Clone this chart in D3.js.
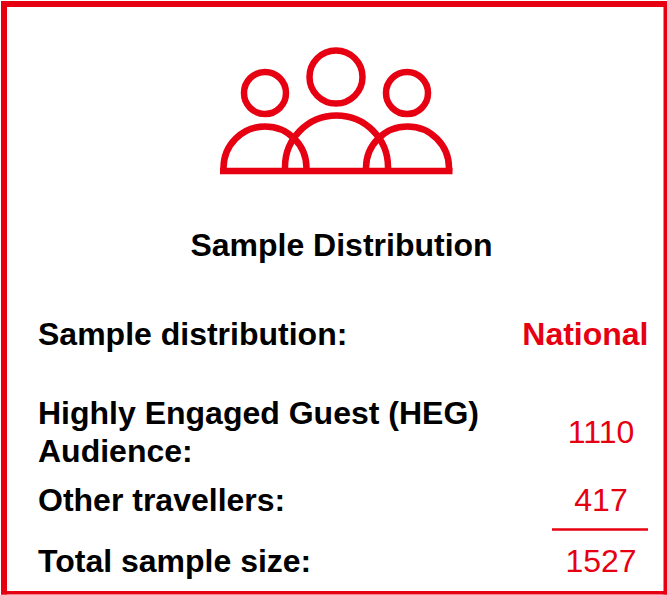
<!DOCTYPE html>
<html>
<head>
<meta charset="utf-8">
<script src="https://d3js.org/d3.v7.min.js"></script>
<style>
  html, body {margin: 0; padding: 0; background: white;}
  text {font-family: "Liberation Sans", Arial, sans-serif;}
</style>
</head>
<body>
<div id="graph"></div>
<script>
// Values
var title = 'Sample Distribution'
var groups = ['Sample distribution:', 'HEG', 'Other travellers:', 'Total sample size:']
var groupLines = [['Sample distribution:'], ['Highly Engaged Guest (HEG)', 'Audience:'], ['Other travellers:'], ['Total sample size:']]
var groupValues = ['National', '1110', '417', '1527']

var red = '#e60012'
var width = 667, height = 595

var svg = d3.select('#graph')
    .append('svg')
    .attr('width', width)
    .attr('height', height)
    .style('display', 'block')

// Outer frame, the sides are not equally thick
svg.append('rect').attr('x', 1).attr('y', 1).attr('width', 666).attr('height', 6).attr('fill', red)
svg.append('rect').attr('x', 1).attr('y', 1).attr('width', 6).attr('height', 593.5).attr('fill', red)
svg.append('rect').attr('x', 663.5).attr('y', 1).attr('width', 3.5).attr('height', 593.5).attr('fill', red)
svg.append('rect').attr('x', 1).attr('y', 591).attr('width', 666).attr('height', 3.5).attr('fill', red)

// People icon
var icon = svg.append('g')
  .attr('fill', 'none')
  .attr('stroke', red)
  .attr('stroke-width', 6.5)

icon.append('circle').attr('cx', 336).attr('cy', 77).attr('r', 26.5)
icon.append('circle').attr('cx', 265).attr('cy', 93).attr('r', 21)
icon.append('circle').attr('cx', 407).attr('cy', 93).attr('r', 21)

// Half circle with short straight legs down to the base line
function dome(cx, r, y) {
  return `M${cx - r},171 V${y} A${r},${r} 0 0 1 ${cx + r},${y} V171`
}
icon.append('path').attr('d', dome(265, 41.5, 168))
icon.append('path').attr('d', dome(336.5, 51.5, 167))
icon.append('path').attr('d', dome(407.5, 41.5, 168))
icon.append('line').attr('x1', 220).attr('x2', 452.5).attr('y1', 171).attr('y2', 171)

// Title
svg.append('text')
  .attr('x', 341.5)
  .attr('y', 256)
  .attr('text-anchor', 'middle')
  .attr('font-size', 32)
  .attr('font-weight', 'bold')
  .text(title)

// Row positions
var rowY = d3.scaleOrdinal().domain(groups).range([345, 424, 511, 572])
var valueY = d3.scaleOrdinal().domain(groups).range([345, 443, 511, 572])

groups.forEach(function(g, i) {
  groupLines[i].forEach(function(line, j) {
    svg.append('text')
      .attr('x', 38)
      .attr('y', rowY(g) + j * 38)
      .attr('font-size', 32)
      .attr('font-weight', 'bold')
      .text(line)
  })
  var isHeader = i == 0
  svg.append('text')
    .attr('x', isHeader ? 648.5 : 601)
    .attr('y', valueY(g))
    .attr('text-anchor', isHeader ? 'end' : 'middle')
    .attr('font-size', 32)
    .attr('font-weight', isHeader ? 'bold' : 'normal')
    .attr('fill', red)
    .text(groupValues[i])
})

// Sum line
svg.append('line')
  .attr('x1', 552).attr('x2', 648)
  .attr('y1', 529.5).attr('y2', 529.5)
  .attr('stroke', red)
  .attr('stroke-width', 2.5)
</script>
</body>
</html>
